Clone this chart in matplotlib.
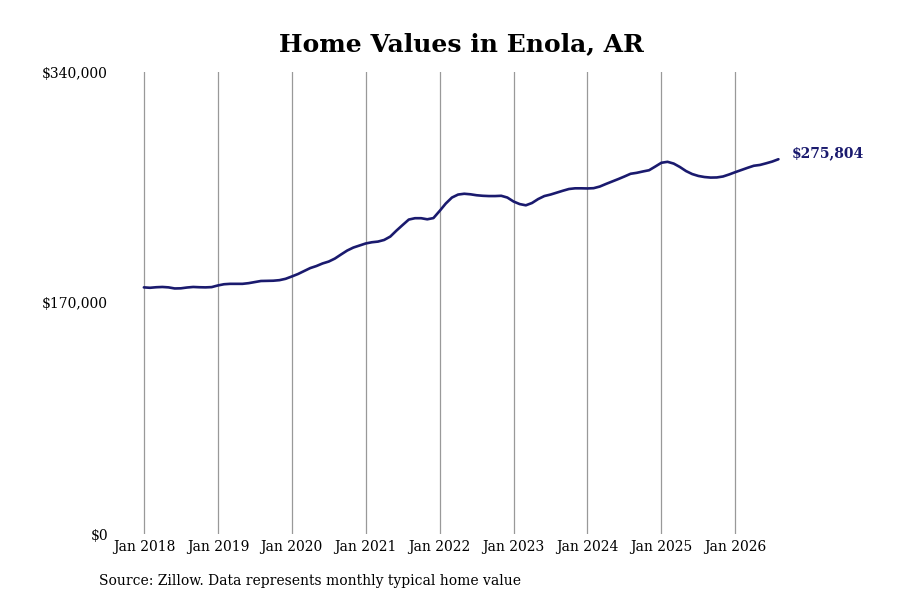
import numpy as np
import matplotlib.pyplot as plt

# monthly typical home value, Jan 2018 .. Aug 2026
values = [
    181500, 181200, 181600, 181800, 181500, 180700, 180800, 181400, 181800, 181600, 181500, 181700,
    182900, 183800, 184100, 184100, 184100, 184600, 185400, 186200, 186300, 186400, 186800, 187800,
    189500, 191300, 193500, 195700, 197200, 199100, 200500, 202700, 205700, 208600, 210800, 212300,
    213800, 214700, 215200, 216400, 218900, 223300, 227400, 231400, 232400, 232400, 231600, 232500,
    237700, 243200, 247600, 249800, 250400, 250000, 249300, 248900, 248700, 248700, 248900, 247600,
    244700, 242800, 241900, 243600, 246500, 248700, 249800, 251200, 252600, 253900, 254400, 254400,
    254300, 254500, 255700, 257600, 259400, 261200, 263100, 265100, 265800, 266800, 267700, 270400,
    273200, 273900, 272600, 270100, 267100, 264900, 263500, 262700, 262300, 262400, 263100, 264600,
    266300, 267900, 269500, 271000, 271600, 272800, 274100, 275804,
]
tick_labels = ["Jan 2018", "Jan 2019", "Jan 2020", "Jan 2021", "Jan 2022",
               "Jan 2023", "Jan 2024", "Jan 2025", "Jan 2026"]
y_ticks = [0, 170000, 340000]
y_tick_labels = ["$0", "$170,000", "$340,000"]
end_label = "$275,804"

plt.rcParams['font.family'] = ['DejaVu Serif']

navy = '#1a1a6e'
months = np.arange(len(values))
tick_pos = np.arange(len(tick_labels)) * 12

fig = plt.figure(figsize=(9, 6), dpi=100)
ax = fig.add_axes([110 / 900, 66 / 600, 690 / 900, 462 / 600])

ax.plot(months, values, color=navy, linewidth=1.9, solid_capstyle='round')

ax.set_xlim(-5.5, 106.5)
ax.set_ylim(0, 340000)
ax.set_xticks(tick_pos)
ax.set_xticklabels(tick_labels, fontsize=10)
ax.set_yticks(y_ticks)
ax.set_yticklabels(y_tick_labels, fontsize=10)
ax.tick_params(axis='both', length=0)
ax.tick_params(axis='x', pad=4)
ax.tick_params(axis='y', pad=1.5)
ax.grid(axis='x', color='#999999', linewidth=0.9)
ax.grid(axis='y', visible=False)
for s in ax.spines.values():
    s.set_visible(False)

ax.annotate(end_label, xy=(months[-1], values[-1]), xytext=(9.5, 4),
            textcoords='offset points', fontsize=10, fontweight='bold',
            color=navy, va='center', ha='left')

fig.text(461 / 900, 1 - 44 / 600, "Home Values in Enola, AR", fontsize=18,
         fontweight='bold', ha='center', va='center')
fig.text(99 / 900, 1 - 581 / 600, "Source: Zillow. Data represents monthly typical home value",
         fontsize=10, ha='left', va='center')

fig.savefig("out.png", dpi=100, facecolor='white')
